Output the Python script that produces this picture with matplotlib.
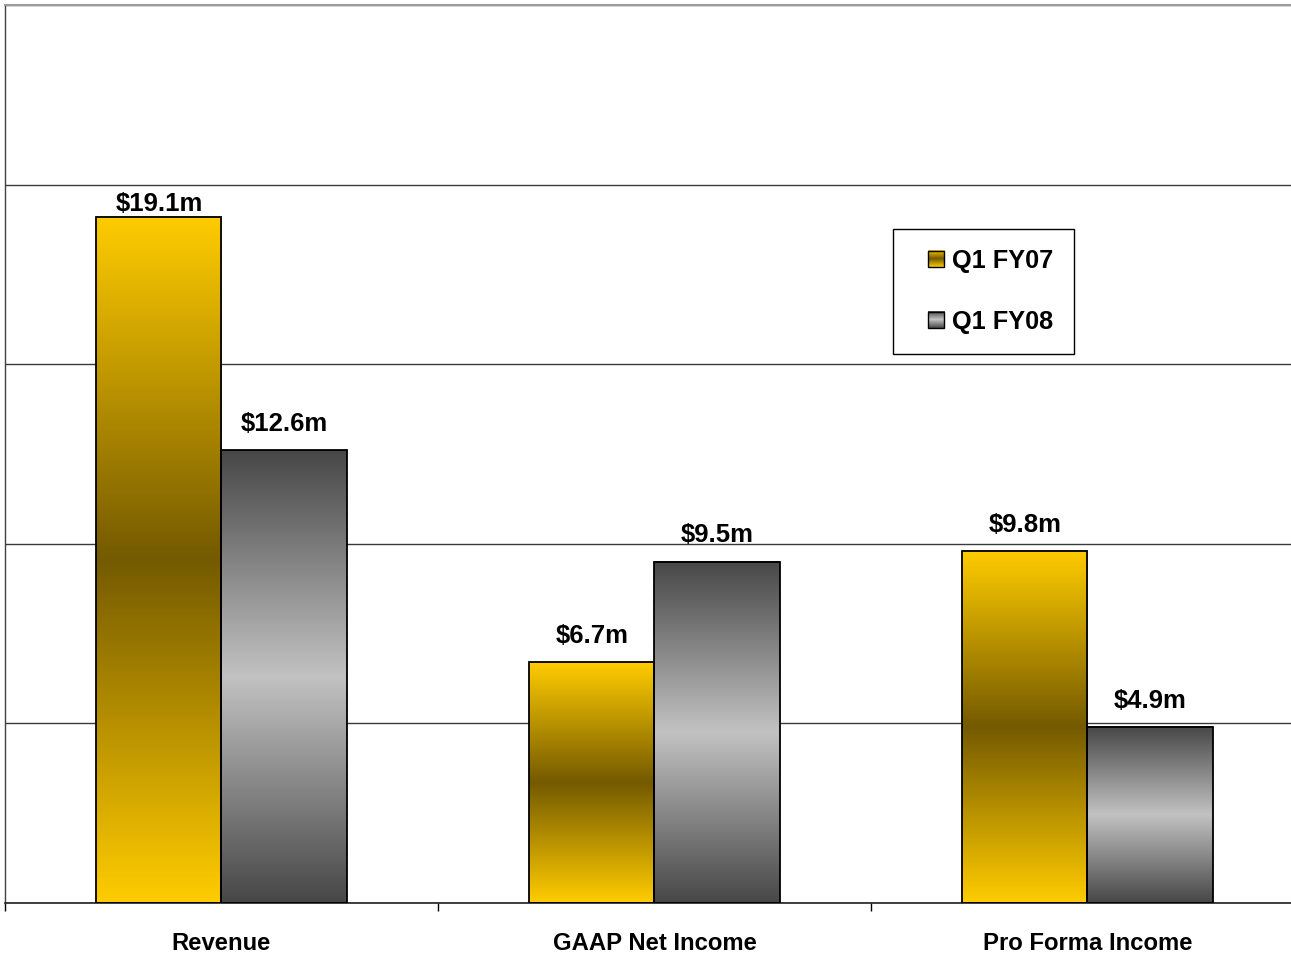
import numpy as np
import matplotlib
matplotlib.use("Agg")
import matplotlib.pyplot as plt
from matplotlib.colors import LinearSegmentedColormap
from matplotlib.patches import Rectangle
from matplotlib.legend_handler import HandlerBase
from matplotlib.image import BboxImage
from matplotlib.transforms import Bbox, TransformedBbox

plt.rcParams['font.family'] = ['Liberation Sans', 'DejaVu Sans']

categories = ["Revenue", "GAAP Net Income", "Pro Forma Income"]
series_names = ["Q1 FY07", "Q1 FY08"]
q1_fy07 = [19.1, 6.7, 9.8]
q1_fy08 = [12.6, 9.5, 4.9]
labels_fy07 = ["$19.1m", "$6.7m", "$9.8m"]
labels_fy08 = ["$12.6m", "$9.5m", "$4.9m"]

# label offsets above bar tops (points) - style only
offsets_fy07 = [9.0, 19, 19]
offsets_fy08 = [19, 19, 19]

gold_cmap = LinearSegmentedColormap.from_list("gold", ["#FFCC00", "#745A00", "#FFCC00"])
gray_cmap = LinearSegmentedColormap.from_list("gray", ["#474747", "#C2C2C2", "#474747"])
grad = np.linspace(0, 1, 256).reshape(-1, 1)

W, H = 1291, 956
fig = plt.figure(figsize=(W / 100, H / 100), dpi=100)
ax = fig.add_axes([5 / W, (H - 903) / H, (1304 - 5) / W, (903 - 5) / H])
ax.set_xlim(-0.5, 2.5)
ax.set_ylim(0, 25)

ax.set_yticks([0, 5, 10, 15, 20, 25])
ax.yaxis.grid(True, color="#3a3a3a", linewidth=1.0, zorder=0)
ax.set_axisbelow(True)
ax.tick_params(axis="y", left=False, labelleft=False)

ax.set_xticks([-0.5, 0.5, 1.5, 2.5])
ax.set_xticklabels([])
ax.tick_params(axis="x", which="major", direction="out", length=6, width=1, color="black")
ax.set_xticks(range(len(categories)), minor=True)
ax.set_xticklabels(categories, minor=True, fontsize=17.2, fontweight="bold")
ax.tick_params(axis="x", which="minor", length=0, pad=21)

ax.spines["right"].set_visible(False)
ax.spines["top"].set_color("#9a9a9a")
ax.spines["top"].set_linewidth(1.5)
ax.spines["left"].set_color("#404040")
ax.spines["left"].set_linewidth(1.0)
ax.spines["bottom"].set_color("#202020")
ax.spines["bottom"].set_linewidth(1.2)

bw = 0.289
series = [(q1_fy07, labels_fy07, offsets_fy07, gold_cmap, -1),
          (q1_fy08, labels_fy08, offsets_fy08, gray_cmap, 0)]
for vals, labs, offs, cmap, off in series:
    for i, v in enumerate(vals):
        x0 = i + off * bw
        ax.imshow(grad, cmap=cmap, extent=[x0, x0 + bw, 0, v], aspect="auto",
                  origin="upper", zorder=2, interpolation="bilinear")
        ax.add_patch(Rectangle((x0, 0), bw, v, fill=False, edgecolor="black",
                               linewidth=1.3, zorder=3))
        ax.annotate(labs[i], (x0 + bw / 2, v), xytext=(0, offs[i]), textcoords="offset points",
                    ha="center", va="center", fontsize=18.5, fontweight="bold", zorder=4)


class GradHandler(HandlerBase):
    def __init__(self, cmap):
        super().__init__()
        self.cmap = cmap

    def create_artists(self, legend, orig_handle, xdescent, ydescent, width, height,
                       fontsize, trans):
        s = min(width, height)
        x = -xdescent + (width - s)
        y = -ydescent + (height - s) / 2
        bb = TransformedBbox(Bbox.from_bounds(x, y, s, s), trans)
        img = BboxImage(bb, cmap=self.cmap, interpolation="bilinear", origin="upper")
        img.set_data(grad)
        frame = Rectangle((x, y), s, s, fill=False, edgecolor="black", linewidth=1.0,
                          transform=trans)
        return [img, frame]


h1 = Rectangle((0, 0), 1, 1)
h2 = Rectangle((0, 0), 1, 1)
leg = ax.legend([h1, h2], series_names,
                handler_map={h1: GradHandler(gold_cmap), h2: GradHandler(gray_cmap)},
                loc="upper left", bbox_to_anchor=((893 - 5) / 1299, (903 - 229) / 898),
                prop={"size": 18.2, "weight": "bold"}, frameon=True, fancybox=False,
                edgecolor="black", framealpha=1, handlelength=1.23, handleheight=0.6,
                handletextpad=0.32, labelspacing=1.46, borderpad=0.8, borderaxespad=0,
                facecolor="white")
leg.get_frame().set_linewidth(1.0)

fig.savefig("out.png", dpi=100)
